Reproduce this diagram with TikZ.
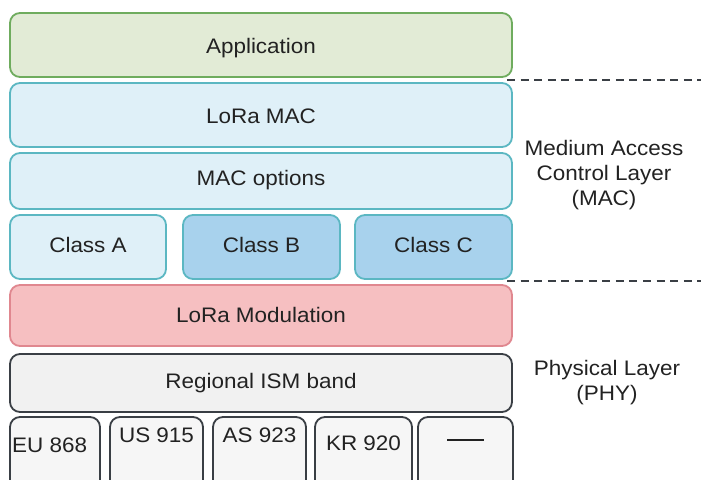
\documentclass[tikz,border=0pt]{standalone}
\usepackage{fontspec}
\setmainfont{Liberation Sans}[FakeStretch=1.07]
\definecolor{appfill}{HTML}{E2EBD6}
\definecolor{appdraw}{HTML}{6FAC5E}
\definecolor{macfill}{HTML}{DFF0F8}
\definecolor{macdraw}{HTML}{5BB7C2}
\definecolor{clsfill}{HTML}{A8D2ED}
\definecolor{modfill}{HTML}{F6BFC1}
\definecolor{moddraw}{HTML}{E0878F}
\definecolor{ismfill}{HTML}{F1F1F1}
\definecolor{darkdraw}{HTML}{3A3F45}
\definecolor{regfill}{HTML}{F6F6F6}
\definecolor{txt}{HTML}{222222}
\begin{document}
\begin{tikzpicture}[x=1pt,y=-1pt,
  layer/.style={rectangle, rounded corners=10pt, line width=1.8pt, inner sep=0pt},
  appbox/.style={layer, draw=appdraw, fill=appfill},
  macbox/.style={layer, draw=macdraw, fill=macfill},
  clsbox/.style={layer, draw=macdraw, fill=clsfill},
  modbox/.style={layer, draw=moddraw, fill=modfill},
  ismbox/.style={layer, draw=darkdraw, fill=ismfill},
  regbox/.style={layer, draw=darkdraw, fill=regfill},
  lbl/.style={font=\fontsize{21}{25}\selectfont, text=txt, inner sep=0pt, anchor=base},
  sep/.style={line width=1.3pt, draw=darkdraw, dash pattern=on 8pt off 5.6pt}
]
\useasboundingbox (0,0) rectangle (701,479);
\fill[white] (0,0) rectangle (701,479);
\begin{scope}
\clip (0,0) rectangle (701,479);
% boxes
\node[appbox, minimum width=502, minimum height=64] (app) at (261,45) {};
\node[macbox, minimum width=502, minimum height=64] (mac) at (261,115) {};
\node[macbox, minimum width=502, minimum height=56] (opts) at (261,181) {};
\node[macbox, minimum width=156, minimum height=64] (ca) at (88,247) {};
\node[clsbox, minimum width=157, minimum height=64] (cb) at (261.5,247) {};
\node[clsbox, minimum width=157, minimum height=64] (cc) at (433.5,247) {};
\node[modbox, minimum width=502, minimum height=61] (mod) at (261,315.5) {};
\node[ismbox, minimum width=502, minimum height=58] (ism) at (261,383) {};
\node[regbox, minimum width=90, minimum height=76] (eu) at (55,455) {};
\node[regbox, minimum width=93, minimum height=76] (us) at (156.5,455) {};
\node[regbox, minimum width=93, minimum height=76] (as) at (259.5,455) {};
\node[regbox, minimum width=97, minimum height=76] (kr) at (363.5,455) {};
\node[regbox, minimum width=95, minimum height=76] (na) at (465.5,455) {};
% texts
\node[lbl] (tapp) at (261,53) {Application};
\node[lbl] (tmac) at (261,123) {LoRa MAC};
\node[lbl] (topts) at (261,185) {MAC options};
\node[lbl] (tca) at (88,252) {Class A};
\node[lbl] (tcb) at (261.5,252) {Class B};
\node[lbl] (tcc) at (433.5,252) {Class C};
\node[lbl] (tmod) at (261,322) {LoRa Modulation};
\node[lbl] (tism) at (261,388) {Regional ISM band};
\node[lbl, anchor=base west] (teu) at (12,452) {EU 868};
\node[lbl] (tus) at (156.5,442) {US 915};
\node[lbl] (tas) at (259.5,442) {AS 923};
\node[lbl] (tkr) at (363.5,450) {KR 920};
\node[inner sep=0pt] (tna) at (465.5,440) {\textcolor{txt}{\rule{37pt}{1.8pt}}};
\end{scope}
% side labels
\node[lbl] (macl1) at (604,155) {Medium Access};
\node[lbl] (macl2) at (604,180) {Control Layer};
\node[lbl] (macl3) at (604,205) {(MAC)};
\node[lbl] (phyl1) at (607,375) {Physical Layer};
\node[lbl] (phyl2) at (607,400) {(PHY)};
% dashed separators
\coordinate (d1) at (701,80);
\coordinate (d2) at (701,281);
\draw[sep] (507,80) -- (d1);
\draw[sep] (507,281) -- (d2);
\end{tikzpicture}
\end{document}
